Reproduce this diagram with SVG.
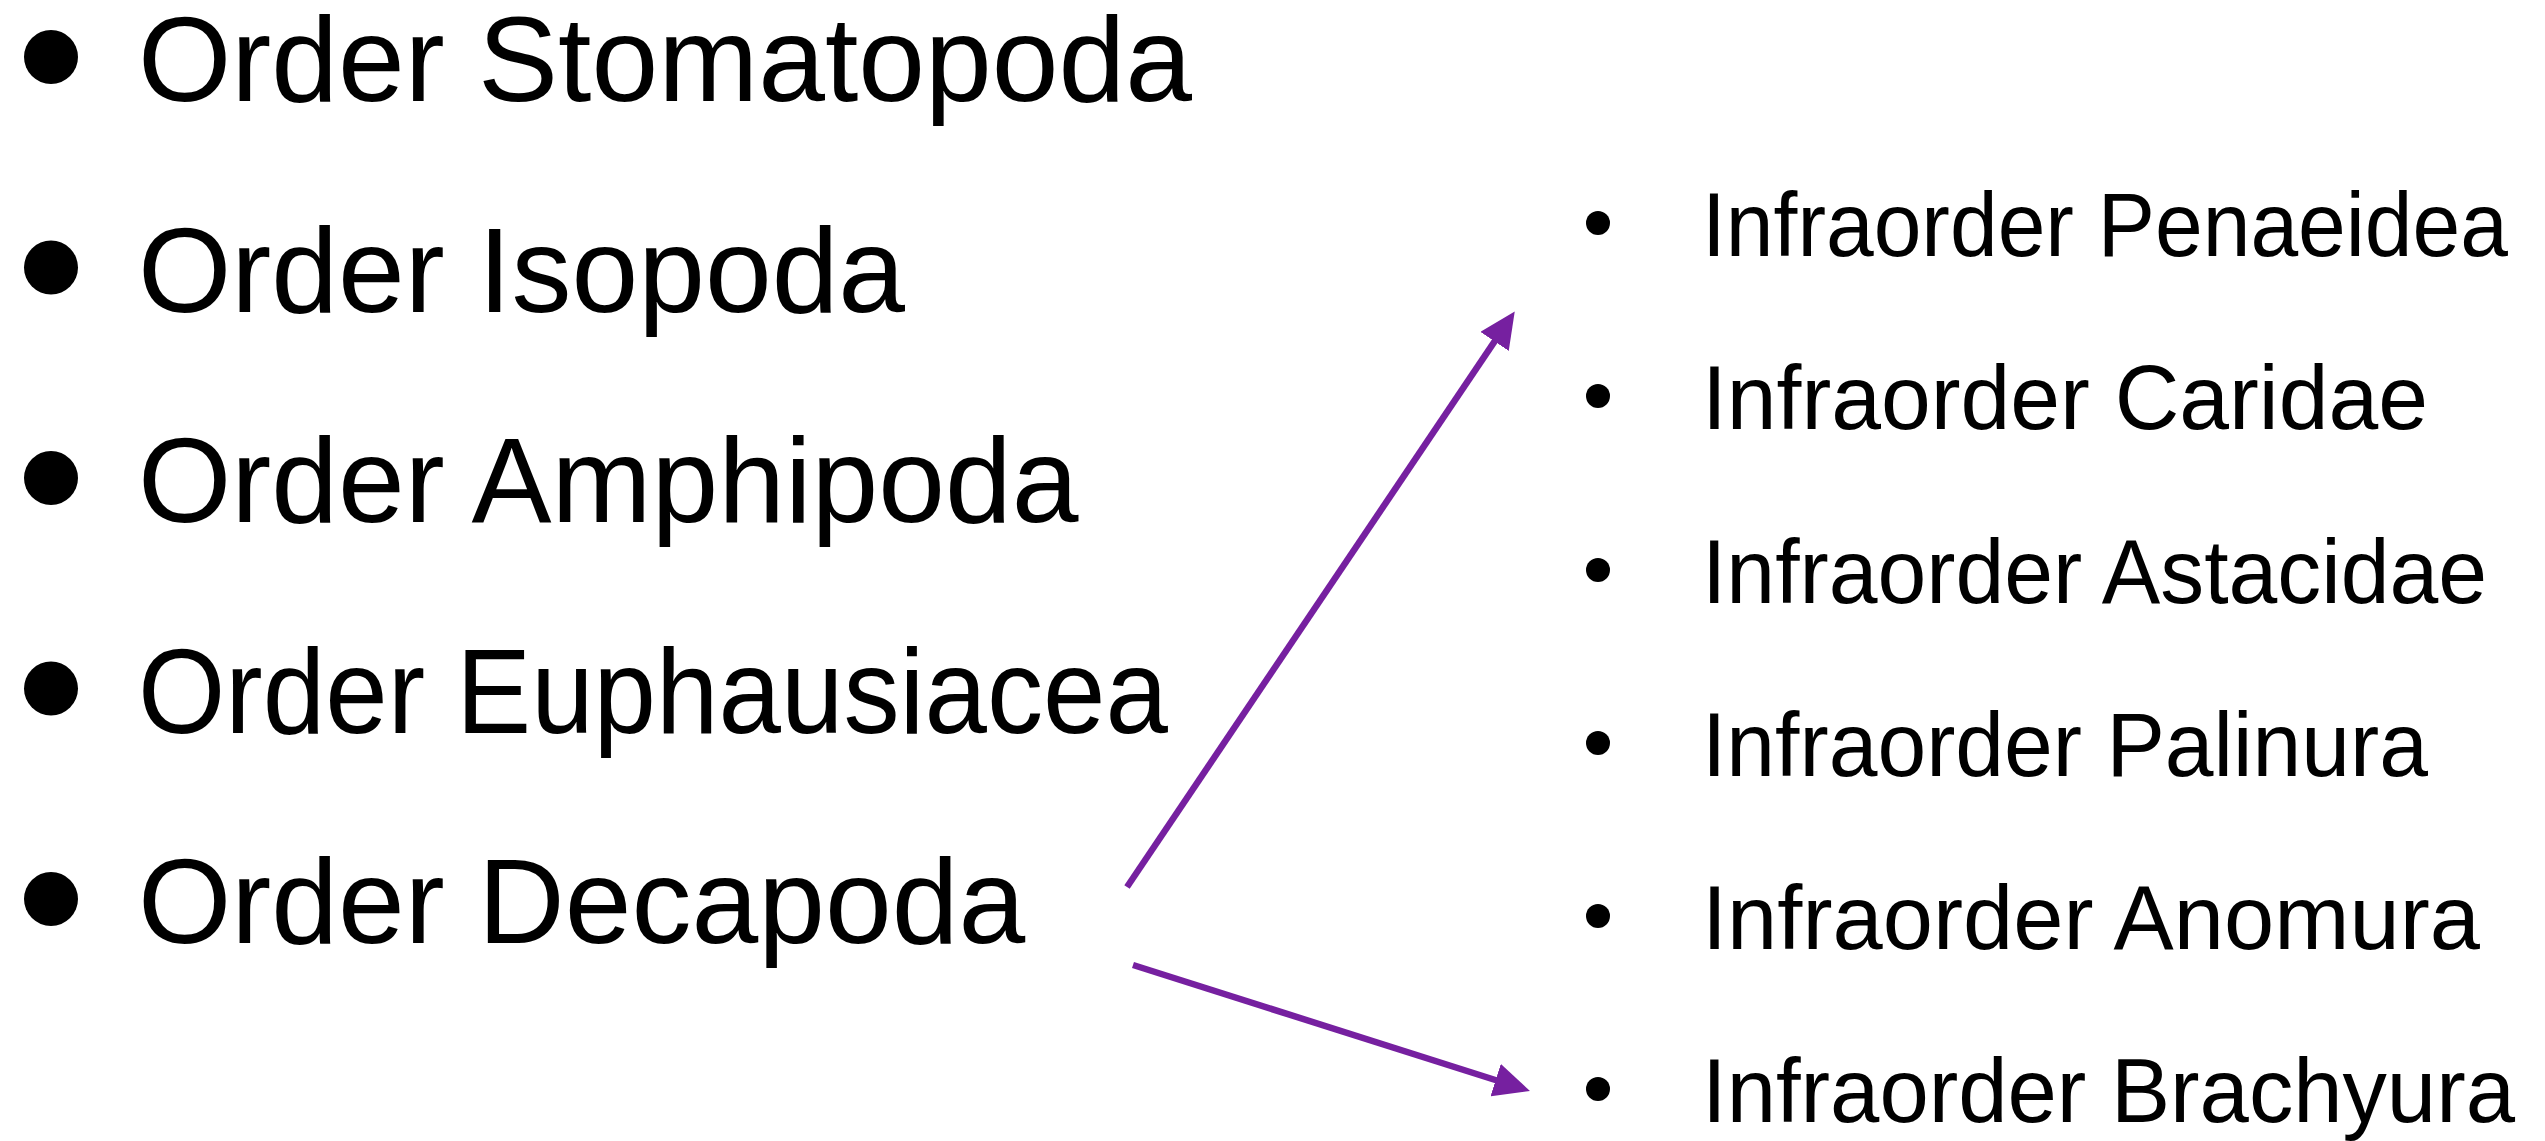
<svg xmlns="http://www.w3.org/2000/svg" width="2545" height="1141" viewBox="0 0 2545 1141">
  <style>
    .ord { font-family: "Liberation Sans", Arial, sans-serif; font-size: 120px; fill: #000; }
    .inf { font-family: "Liberation Sans", Arial, sans-serif; font-size: 90px; fill: #000; }
    .bul { fill: #000; }
    .arr { stroke: #7620A0; stroke-width: 6.5; fill: none; stroke-linecap: butt; }
  </style>
  <defs>
    <marker id="head" viewBox="0 0 36 34" refX="3" refY="17" markerWidth="36" markerHeight="34" markerUnits="userSpaceOnUse" orient="auto">
      <path d="M0,0 L36,17 L0,34 z" fill="#7620A0"/>
    </marker>
  </defs>
  <rect width="2545" height="1141" fill="#fff"/>

  <g id="order-stomatopoda">
    <circle class="bul" cx="51" cy="57" r="27"/>
    <text class="ord" x="138" y="101">Order Stomatopoda</text>
  </g>
  <g id="order-isopoda">
    <circle class="bul" cx="51" cy="267.5" r="27"/>
    <text class="ord" x="138" y="311.5">Order Isopoda</text>
  </g>
  <g id="order-amphipoda">
    <circle class="bul" cx="51" cy="478" r="27"/>
    <text class="ord" x="138" y="522">Order Amphipoda</text>
  </g>
  <g id="order-euphausiacea">
    <circle class="bul" cx="51" cy="688.5" r="27"/>
    <text class="ord" x="138" y="732.5" textLength="1030" lengthAdjust="spacingAndGlyphs">Order Euphausiacea</text>
  </g>
  <g id="order-decapoda">
    <circle class="bul" cx="51" cy="899" r="27"/>
    <text class="ord" x="138" y="943">Order Decapoda</text>
  </g>

  <g id="infra-penaeidea">
    <circle class="bul" cx="1598" cy="223" r="12"/>
    <text class="inf" x="1702" y="256" textLength="806" lengthAdjust="spacingAndGlyphs">Infraorder Penaeidea</text>
  </g>
  <g id="infra-caridae">
    <circle class="bul" cx="1598" cy="396" r="12"/>
    <text class="inf" x="1702" y="429" textLength="726" lengthAdjust="spacingAndGlyphs">Infraorder Caridae</text>
  </g>
  <g id="infra-astacidae">
    <circle class="bul" cx="1598" cy="570" r="12"/>
    <text class="inf" x="1702" y="603" textLength="785" lengthAdjust="spacingAndGlyphs">Infraorder Astacidae</text>
  </g>
  <g id="infra-palinura">
    <circle class="bul" cx="1598" cy="743" r="12"/>
    <text class="inf" x="1702" y="776" textLength="726" lengthAdjust="spacingAndGlyphs">Infraorder Palinura</text>
  </g>
  <g id="infra-anomura">
    <circle class="bul" cx="1598" cy="916" r="12"/>
    <text class="inf" x="1702" y="949" textLength="778" lengthAdjust="spacingAndGlyphs">Infraorder Anomura</text>
  </g>
  <g id="infra-brachyura">
    <circle class="bul" cx="1598" cy="1089" r="12"/>
    <text class="inf" x="1702" y="1122" textLength="813" lengthAdjust="spacingAndGlyphs">Infraorder Brachyura</text>
  </g>

  <g id="connectors">
    <line class="arr" x1="1127" y1="887" x2="1496.3" y2="338.9" marker-end="url(#head)"/>
    <line class="arr" x1="1133" y1="965" x2="1498.5" y2="1081" marker-end="url(#head)"/>
  </g>
</svg>
